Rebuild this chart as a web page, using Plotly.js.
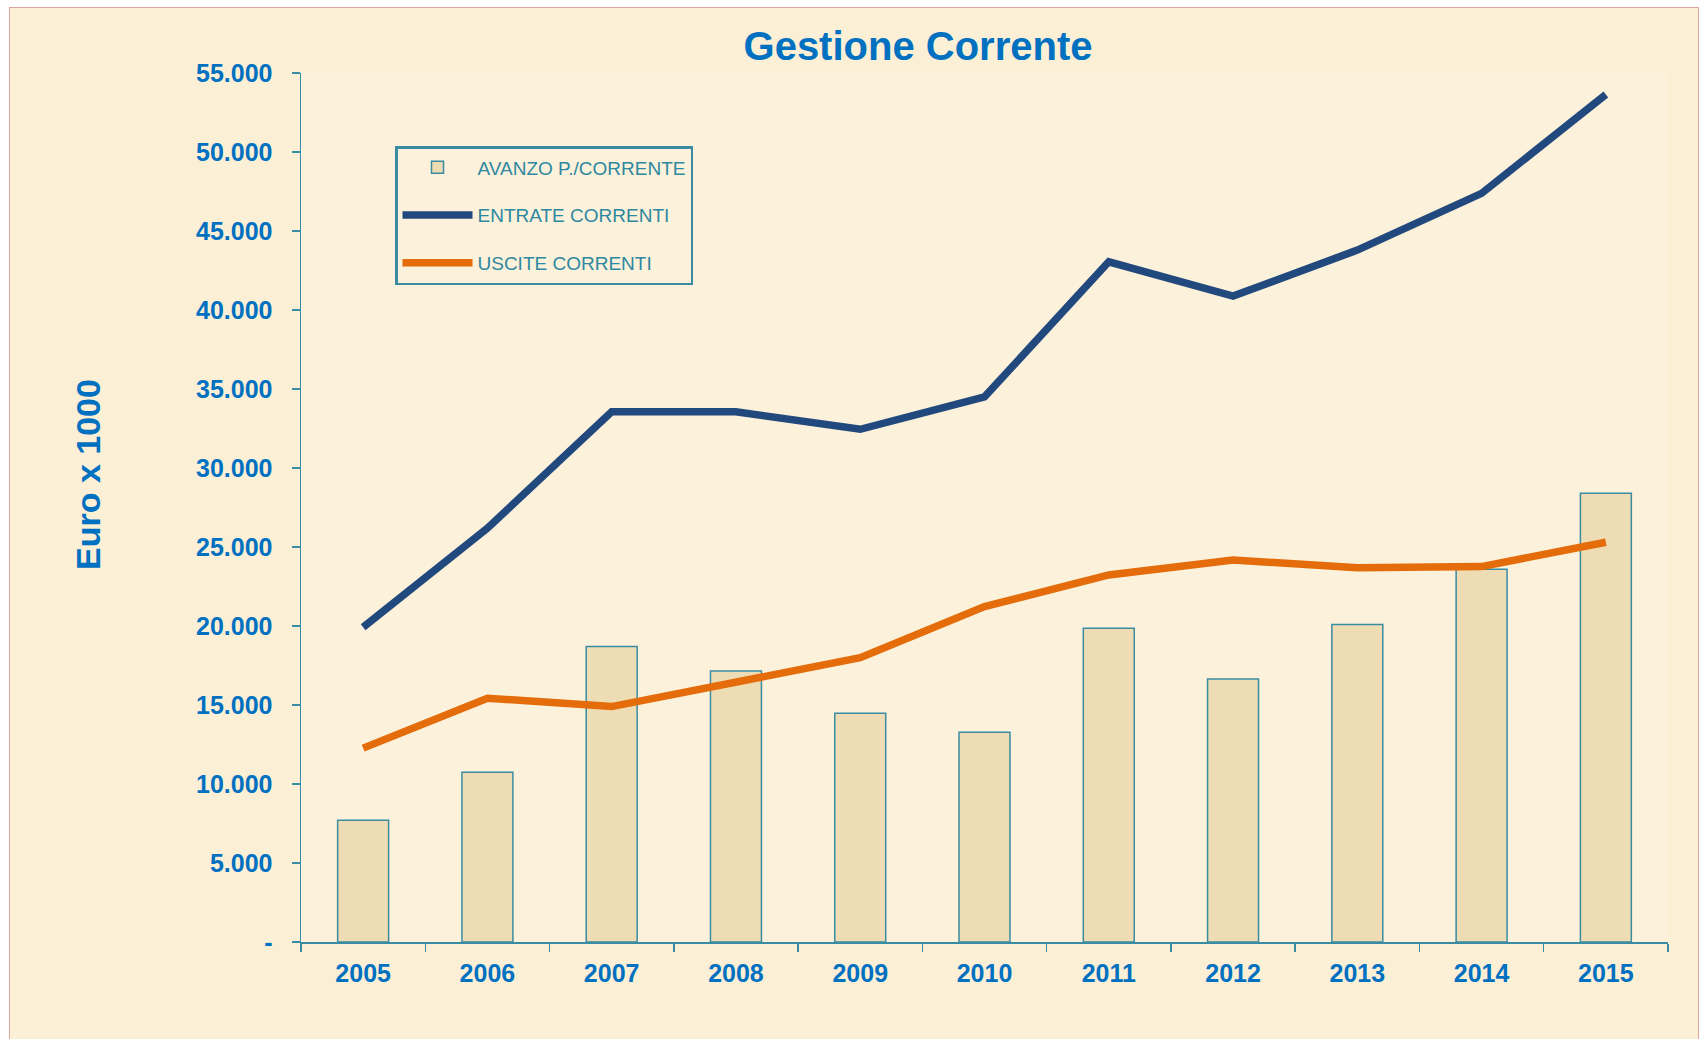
<!DOCTYPE html>
<html>
<head>
<meta charset="utf-8">
<script src="https://cdn.plot.ly/plotly-3.0.1.min.js"></script>
<style>
  html, body { margin: 0; padding: 0; background: #ffffff; width: 1704px; height: 1039px; overflow: hidden; }
  #bg { position: absolute; left: 9px; top: 7px; width: 1690px; height: 1040px;
        background: #FBEFD6; border: 1.5px solid #D9A79C; box-sizing: border-box; }
  #chart { position: absolute; left: 0; top: 0; width: 1704px; height: 1039px; }
</style>
</head>
<body>
<div id="bg"></div>
<div id="chart"></div>
<script>
// ---- data (Euro x 1000) ----
const years = ['2005','2006','2007','2008','2009','2010','2011','2012','2013','2014','2015'];
const avanzoCorrente = [7700, 10750, 18700, 17150, 14470, 13270, 19860, 16650, 20100, 23590, 28400];
const entrateCorrenti = [19920, 26190, 33560, 33560, 32450, 34500, 43050, 40880, 43790, 47380, 53640];
const usciteCorrenti = [12270, 15430, 14900, 16480, 18000, 21230, 23230, 24180, 23690, 23760, 25300];
const yTickValues = [0, 5000, 10000, 15000, 20000, 25000, 30000, 35000, 40000, 45000, 50000, 55000];
const yTickLabels = ['-', '5.000', '10.000', '15.000', '20.000', '25.000', '30.000', '35.000', '40.000', '45.000', '50.000', '55.000'];
const seriesNames = ['AVANZO P./CORRENTE', 'ENTRATE CORRENTI', 'USCITE CORRENTI'];
const yTitle = 'Euro x 1000';

const FONT = 'Liberation Sans, Arial, Helvetica, sans-serif';
const BLUE = '#0070C0';
const TEAL = '#3A8CA2';

const traces = [
  {
    type: 'bar', x: years, y: avanzoCorrente, name: seriesNames[0],
    legendgroup: 'a', width: 0.41,
    marker: { color: '#EEDCB4', line: { color: TEAL, width: 1.5 } }
  },
  {
    type: 'scatter', mode: 'lines', x: years, y: entrateCorrenti, name: seriesNames[1],
    legendgroup: 'b',
    line: { color: '#22497D', width: 7.5 }
  },
  {
    type: 'scatter', mode: 'lines', x: years, y: usciteCorrenti, name: seriesNames[2],
    legendgroup: 'c',
    line: { color: '#E46C0A', width: 7.5 }
  }
];

const layout = {
  width: 1704, height: 1039,
  paper_bgcolor: 'rgba(0,0,0,0)',
  plot_bgcolor: '#FCF1DA',
  margin: { l: 301, r: 36, t: 73, b: 97 },
  font: { family: FONT, color: BLUE },
  title: {
    text: 'Gestione Corrente',
    font: { family: FONT, size: 40, color: BLUE, weight: 'bold' },
    x: 918 / 1704, xanchor: 'center', xref: 'container',
    y: 1 - 46 / 1039, yanchor: 'middle', yref: 'container'
  },
  showlegend: true,
  legend: {
    x: (395 - 301) / 1367, y: (942 - 146) / 869, xanchor: 'left', yanchor: 'top',
    bgcolor: 'rgba(0,0,0,0)', bordercolor: TEAL, borderwidth: 2.5,
    font: { family: FONT, size: 19, color: '#2E88A0' },
    traceorder: 'grouped', tracegroupgap: 20, itemwidth: 70
  },
  xaxis: {
    type: 'category', range: [-0.5, 10.5],
    showline: true, linecolor: TEAL, linewidth: 1.5,
    ticks: 'outside', tickson: 'boundaries', ticklen: 8, tickcolor: TEAL, tickwidth: 1.5,
    tickfont: { family: FONT, size: 25, color: BLUE, weight: 'bold' },
    ticklabelstandoff: 8,
    showgrid: false, zeroline: false, fixedrange: true
  },
  yaxis: {
    range: [0, 55000],
    tickvals: yTickValues, ticktext: yTickLabels,
    showline: true, linecolor: TEAL, linewidth: 1.5,
    ticks: 'outside', ticklen: 8, tickcolor: TEAL, tickwidth: 1.5,
    tickfont: { family: FONT, size: 25, color: BLUE, weight: 'bold' },
    ticklabelstandoff: 14,
    showgrid: false, zeroline: false, fixedrange: true,
    automargin: false
  },
  annotations: [{
    text: yTitle, textangle: -90,
    xref: 'paper', yref: 'paper',
    x: (88 - 301) / 1367, y: (942 - 475) / 869,
    xanchor: 'center', yanchor: 'middle', showarrow: false,
    font: { family: FONT, size: 34, color: BLUE, weight: 'bold' }
  }],
  bargap: 0.59
};

Plotly.newPlot('chart', traces, layout, { displayModeBar: false, staticPlot: true });
</script>
</body>
</html>
